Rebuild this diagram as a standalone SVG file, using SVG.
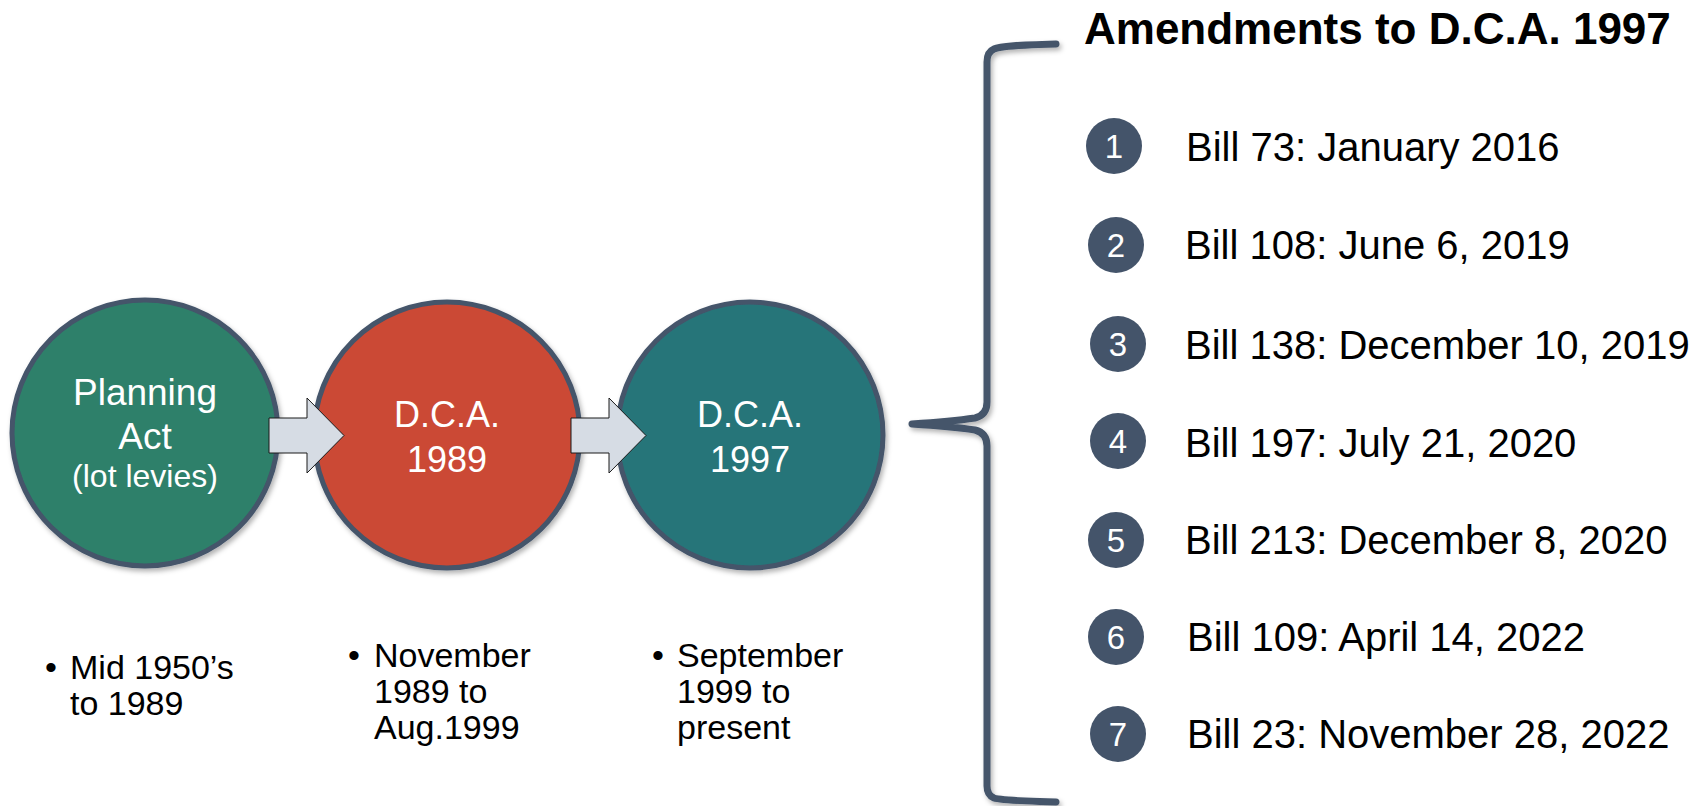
<svg xmlns="http://www.w3.org/2000/svg" width="1699" height="806" viewBox="0 0 1699 806">
  <defs>
    <filter id="shadow" x="-10%" y="-10%" width="130%" height="130%">
      <feDropShadow dx="2" dy="3" stdDeviation="2.5" flood-color="#000" flood-opacity="0.3"/>
    </filter>
  </defs>
  <style>
    .big { stroke: #44546A; stroke-width: 5; filter: url(#shadow); }
    .ctext { font-family: "Liberation Sans", Arial, sans-serif; fill: #ffffff; text-anchor: middle; }
    .arrow { fill: #D6DCE4; stroke: #1a1a1a; stroke-width: 1; }
    .body { font-family: "Liberation Sans", Arial, sans-serif; fill: #000000; }
    .num { fill: #44546A; }
    .numt { font-family: "Liberation Sans", Arial, sans-serif; fill: #ffffff; font-size: 33px; text-anchor: middle; }
    .brace { fill: none; stroke: #44546A; stroke-width: 7; stroke-linecap: round; stroke-linejoin: round; filter: url(#shadow); }
  </style>
  <rect width="1699" height="806" fill="#ffffff"/>

  <g id="node-planning-act">
    <circle class="big" cx="145" cy="433" r="133" fill="#2E806A"/>
    <text class="ctext" x="145" y="405" font-size="37">Planning</text>
    <text class="ctext" x="145" y="449" font-size="37">Act</text>
    <text class="ctext" x="145" y="487" font-size="32">(lot levies)</text>
  </g>
  <g id="node-dca-1989">
    <circle class="big" cx="447" cy="435" r="133" fill="#CB4935"/>
    <text class="ctext" x="447" y="427" font-size="36">D.C.A.</text>
    <text class="ctext" x="447" y="472" font-size="36">1989</text>
  </g>
  <g id="node-dca-1997">
    <circle class="big" cx="750" cy="435" r="133" fill="#287579"/>
    <text class="ctext" x="750" y="427" font-size="36">D.C.A.</text>
    <text class="ctext" x="750" y="472" font-size="36">1997</text>
  </g>

  <g id="connectors">
    <polygon class="arrow" points="269,418 307,418 307,398 344,435.5 307,473 307,453 269,453"/>
    <polygon class="arrow" points="571,418 609,418 609,398 646,435.5 609,473 609,453 571,453"/>
    <path class="brace" d="M 1056 44 C 1020 45, 1000 46, 994 49 Q 987 52 987 62 L 987 402 Q 987 415 975 418 C 955 421, 928 423, 912 424 C 928 425, 955 427, 975 430 Q 987 433 987 446 L 987 786 Q 987 795 994 798 C 1000 800, 1020 801, 1056 802"/>
  </g>

  <g id="dates-planning">
    <text class="body" x="51" y="679" font-size="34" text-anchor="middle">•</text>
    <text class="body" x="70" y="679" font-size="34">Mid 1950’s</text>
    <text class="body" x="70" y="715" font-size="34">to 1989</text>
  </g>
  <g id="dates-1989">
    <text class="body" x="354" y="667" font-size="34" text-anchor="middle">•</text>
    <text class="body" x="374" y="667" font-size="34">November</text>
    <text class="body" x="374" y="703" font-size="34">1989 to</text>
    <text class="body" x="374" y="739" font-size="34">Aug.1999</text>
  </g>
  <g id="dates-1997">
    <text class="body" x="658" y="667" font-size="34" text-anchor="middle">•</text>
    <text class="body" x="677" y="667" font-size="34">September</text>
    <text class="body" x="677" y="703" font-size="34">1999 to</text>
    <text class="body" x="677" y="739" font-size="34">present</text>
  </g>

  <g id="title">
    <text class="body" x="1084" y="44" font-size="44" font-weight="bold">Amendments to D.C.A. 1997</text>
  </g>

  <g id="item-1">
    <circle class="num" cx="1114" cy="146" r="28"/>
    <text class="numt" x="1114" y="158">1</text>
    <text class="body" x="1186" y="161" font-size="40">Bill 73: January 2016</text>
  </g>
  <g id="item-2">
    <circle class="num" cx="1116" cy="245" r="28"/>
    <text class="numt" x="1116" y="257">2</text>
    <text class="body" x="1185" y="259" font-size="40">Bill 108: June 6, 2019</text>
  </g>
  <g id="item-3">
    <circle class="num" cx="1118" cy="344" r="28"/>
    <text class="numt" x="1118" y="356">3</text>
    <text class="body" x="1185" y="359" font-size="40">Bill 138: December 10, 2019</text>
  </g>
  <g id="item-4">
    <circle class="num" cx="1118" cy="441" r="28"/>
    <text class="numt" x="1118" y="453">4</text>
    <text class="body" x="1185" y="457" font-size="40">Bill 197: July 21, 2020</text>
  </g>
  <g id="item-5">
    <circle class="num" cx="1116" cy="540" r="28"/>
    <text class="numt" x="1116" y="552">5</text>
    <text class="body" x="1185" y="554" font-size="40">Bill 213: December 8, 2020</text>
  </g>
  <g id="item-6">
    <circle class="num" cx="1116" cy="637" r="28"/>
    <text class="numt" x="1116" y="649">6</text>
    <text class="body" x="1187" y="651" font-size="40">Bill 109: April 14, 2022</text>
  </g>
  <g id="item-7">
    <circle class="num" cx="1118" cy="734" r="28"/>
    <text class="numt" x="1118" y="746">7</text>
    <text class="body" x="1187" y="748" font-size="40">Bill 23: November 28, 2022</text>
  </g>
</svg>
